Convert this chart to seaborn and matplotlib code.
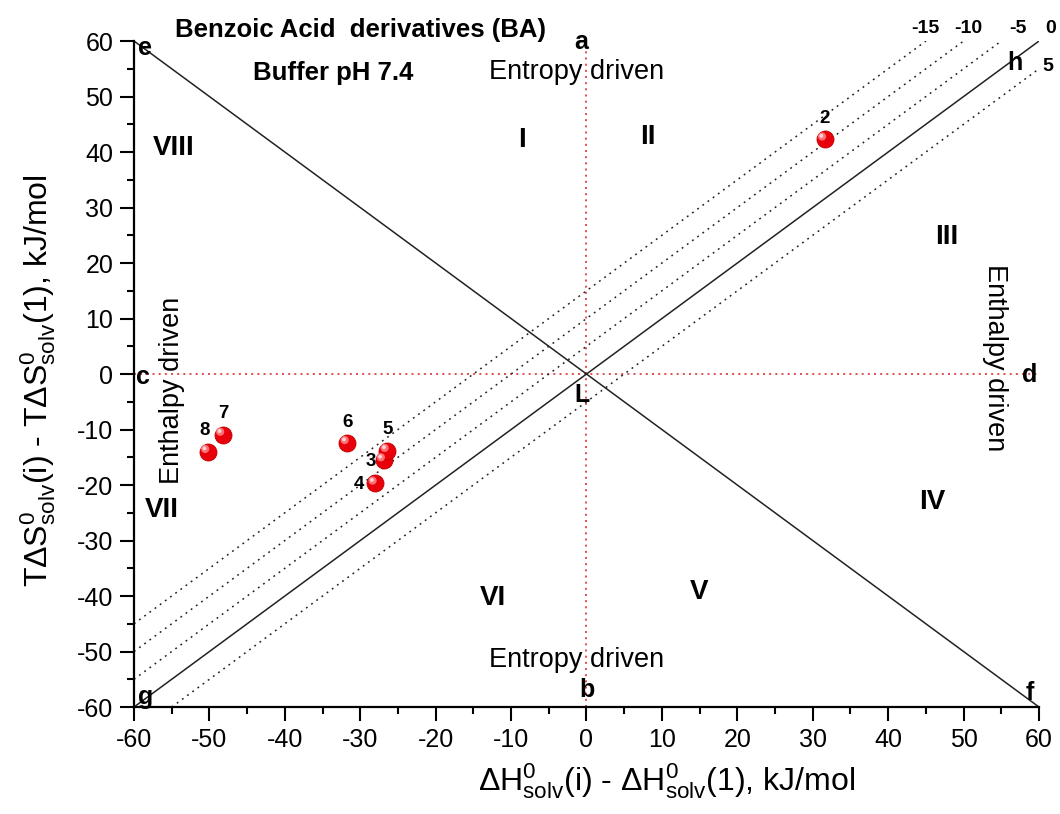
import numpy as np
import pandas as pd
import matplotlib
matplotlib.use("Agg")
import matplotlib.pyplot as plt
import matplotlib.transforms as mtransforms
import seaborn as sns

# ---- data ----
compound_ids = ['2', '3', '4', '5', '6', '7', '8']
dH_values = [31.6, -26.9, -28.0, -26.4, -31.7, -48.2, -50.2]
TdS_values = [42.3, -15.5, -19.7, -13.8, -12.4, -10.9, -14.0]
dG_levels = [-15, -10, -5, 5]
dG_label_text = ['-15', '-10', '-5', '0', '5']
x_ticks = list(range(-60, 61, 10))
y_ticks = list(range(-60, 61, 10))
region_labels = ['I', 'II', 'III', 'IV', 'V', 'VI', 'VII', 'VIII']
corner_letters = ['a', 'b', 'c', 'd', 'e', 'f', 'g', 'h', 'L']

sns.set_theme(style="white")
plt.rcParams['font.family'] = ['Liberation Sans', 'DejaVu Sans']
plt.rcParams['mathtext.fontset'] = 'custom'
plt.rcParams['mathtext.rm'] = 'Liberation Sans'
plt.rcParams['mathtext.it'] = 'Liberation Sans:italic'
plt.rcParams['mathtext.bf'] = 'Liberation Sans:bold'
plt.rcParams['axes.unicode_minus'] = False
for k in ['text.color', 'axes.labelcolor', 'xtick.color', 'ytick.color']:
    plt.rcParams[k] = 'black'

fig = plt.figure(figsize=(10.6, 8.14), dpi=100)
ax = fig.add_axes([0.1264, 0.1314, 0.9802 - 0.1264, 0.9496 - 0.1314])

df = pd.DataFrame({'id': compound_ids, 'dH': dH_values, 'TdS': TdS_values})

lo, hi = -60, 60
# main diagonals
ax.plot([lo, hi], [hi, lo], color='#222222', lw=1.1, zorder=2)
ax.plot([lo, hi], [lo, hi], color='#222222', lw=1.1, zorder=2)
# constant dG lines: TdS = dH - dG
for g in dG_levels:
    x0 = max(lo, lo + g)
    x1 = min(hi, hi + g)
    ax.plot([x0, x1], [x0 - g, x1 - g], color='#222222', lw=1.1,
            ls=(0, (1.2, 3.0)), zorder=2)
# red dotted axes
ax.plot([0, 0], [lo, hi], color='#e03030', lw=1.2, ls=(0, (1.2, 2.5)), zorder=1)
ax.plot([lo, hi], [0, 0], color='#e03030', lw=1.2, ls=(0, (1.2, 2.5)), zorder=1)

# points
sns.scatterplot(data=df, x='dH', y='TdS', ax=ax, color='#e8000b', s=150,
                edgecolor='#c00000', linewidth=0.6, zorder=5, legend=False)
hl = mtransforms.offset_copy(ax.transData, fig=fig, x=-2.0, y=2.0, units='points')
ax.scatter(df['dH'], df['TdS'], s=35, color='#ff7070', edgecolor='none',
           zorder=6, transform=hl)
hl2 = mtransforms.offset_copy(ax.transData, fig=fig, x=-2.5, y=2.5, units='points')
ax.scatter(df['dH'], df['TdS'], s=8, color='#ffd0e0', edgecolor='none',
           zorder=7, transform=hl2)

label_offsets = {'2': (0, 15), '3': (-9, -1), '4': (-12, -1), '5': (0, 15),
                 '6': (0, 15), '7': (0, 15), '8': (-2, 15)}
for cid, xv, yv in zip(compound_ids, dH_values, TdS_values):
    ox, oy = label_offsets[cid]
    ax.annotate(cid, (xv, yv), xytext=(ox, oy), textcoords='offset points',
                ha='center', va='center', fontsize=13.5, fontweight='bold',
                zorder=8)

# region labels
region_pos = [(-8.6, 42.2), (8.1, 42.7), (47.8, 24.7), (45.8, -23.1),
              (14.9, -39.3), (-12.4, -40.4), (-56.3, -24.5), (-54.8, 40.7)]
for t, (xv, yv) in zip(region_labels, region_pos):
    ax.text(xv, yv, t, ha='center', va='center', fontsize=20, fontweight='bold')

letter_pos = [(-0.7, 59.8), (0.0, -57.0), (-58.8, -0.5), (58.8, -0.2),
              (-58.5, 58.7), (58.8, -57.5), (-58.4, -58.2), (56.8, 56.0),
              (-0.6, -3.8)]
for t, (xv, yv) in zip(corner_letters, letter_pos):
    ax.text(xv, yv, t, ha='center', va='center', fontsize=18, fontweight='bold',
            zorder=9)

ax.text(-1.3, 54.4, 'Entropy driven', ha='center', va='center', fontsize=19.5)
ax.text(-1.3, -51.5, 'Entropy driven', ha='center', va='center', fontsize=19.5)
ax.text(-55.0, -2.9, 'Enthalpy driven', ha='center', va='center', fontsize=19.5,
        rotation=90)
ax.text(54.2, 3.0, 'Enthalpy driven', ha='center', va='center', fontsize=19.5,
        rotation=-90)

ax.text(-30.0, 62.0, 'Benzoic Acid  derivatives (BA)', ha='center', va='center',
        fontsize=18.5, fontweight='bold', clip_on=False)
ax.text(-33.6, 54.2, 'Buffer pH 7.4', ha='center', va='center',
        fontsize=18.5, fontweight='bold')

dG_label_pos = [(44.9, 62.2), (50.6, 62.2), (57.2, 62.2), (61.5, 62.2), (61.2, 55.5)]
for t, (xv, yv) in zip(dG_label_text, dG_label_pos):
    ax.text(xv, yv, t, ha='center', va='center', fontsize=14,
            fontweight='bold', clip_on=False)

ax.set_xlim(lo, hi)
ax.set_ylim(lo, hi)
ax.set_xticks(x_ticks)
ax.set_yticks(y_ticks)
ax.set_xticks([v + 5 for v in x_ticks[:-1]], minor=True)
ax.set_yticks([v + 5 for v in y_ticks[:-1]], minor=True)
ax.tick_params(axis='both', which='major', direction='out', length=10, width=1.5,
               labelsize=18, color='black', pad=5, bottom=True, left=True)
ax.tick_params(axis='both', which='minor', direction='out', length=5, width=1.5,
               color='black', bottom=True, left=True)

for s in ['top', 'right']:
    ax.spines[s].set_visible(False)
for s in ['left', 'bottom']:
    ax.spines[s].set_color('black')
    ax.spines[s].set_linewidth(1.6)

ax.set_xlabel(r'$\Delta\mathrm{H}^{0}_{\mathrm{solv}}$(i) - $\Delta\mathrm{H}^{0}_{\mathrm{solv}}$(1), kJ/mol',
              fontsize=23)
ax.set_ylabel(r'T$\Delta\mathrm{S}^{0}_{\mathrm{solv}}$(i) - T$\Delta\mathrm{S}^{0}_{\mathrm{solv}}$(1), kJ/mol',
              fontsize=23)
ax.xaxis.set_label_coords(0.588, -0.082)
ax.yaxis.set_label_coords(-0.0845, 0.49)
ax.grid(False)
ax.set_facecolor('white')
fig.patch.set_facecolor('white')

fig.savefig('out.png', dpi=100)
